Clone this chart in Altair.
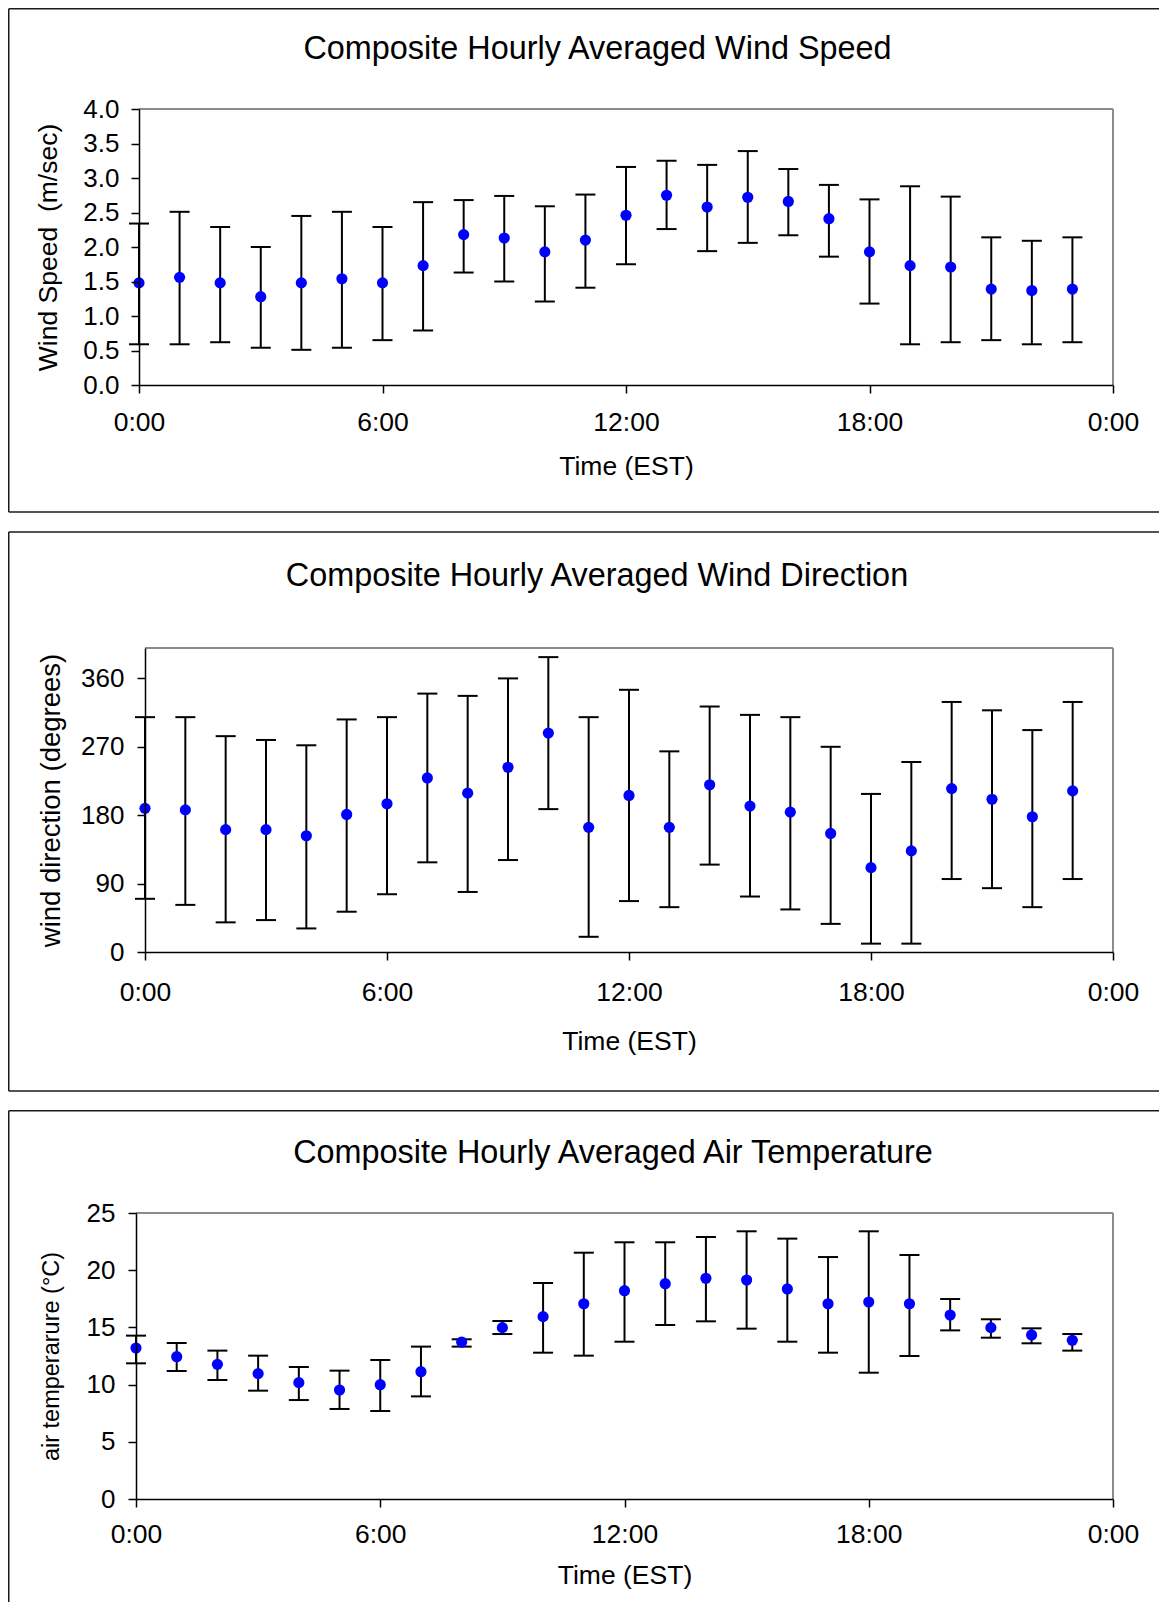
import json
import altair as alt
import pandas as pd

FONT = "Liberation Sans"

hours = list(range(24))
tick_hours = [0, 6, 12, 18, 24]
tick_labels = ["0:00", "6:00", "12:00", "18:00", "0:00"]

titles = [
    "Composite Hourly Averaged Wind Speed",
    "Composite Hourly Averaged Wind Direction",
    "Composite Hourly Averaged Air Temperature",
]
x_title = "Time (EST)"
y_titles = ["Wind Speed \u00a0(m/sec)", "wind direction (degrees)", "air temperarure (°C)"]

speed_mean = [1.48, 1.56, 1.48, 1.28, 1.48, 1.54, 1.48, 1.73, 2.18, 2.13, 1.93, 2.10,
              2.46, 2.75, 2.58, 2.72, 2.66, 2.41, 1.93, 1.73, 1.71, 1.39, 1.37, 1.39]
speed_low = [0.59, 0.59, 0.62, 0.54, 0.51, 0.54, 0.65, 0.79, 1.63, 1.50, 1.21, 1.41,
             1.75, 2.26, 1.94, 2.06, 2.17, 1.86, 1.18, 0.59, 0.62, 0.65, 0.59, 0.62]
speed_high = [2.34, 2.51, 2.29, 2.00, 2.45, 2.51, 2.29, 2.65, 2.68, 2.74, 2.59, 2.76,
              3.16, 3.25, 3.19, 3.39, 3.13, 2.90, 2.69, 2.88, 2.73, 2.14, 2.09, 2.14]

dir_mean = [189, 187, 161, 161, 153, 181, 195, 229, 209, 243, 288, 164,
            206, 164, 220, 192, 184, 156, 111, 133, 215, 201, 178, 212]
dir_low = [70, 62, 39, 42, 31, 53, 76, 118, 79, 121, 188, 20,
           67, 59, 115, 73, 56, 37, 11, 11, 96, 84, 59, 96]
dir_high = [309, 309, 284, 279, 272, 306, 309, 340, 337, 360, 388, 309,
            345, 264, 323, 312, 309, 270, 208, 250, 329, 318, 292, 329]

temp_mean = [13.20, 12.44, 11.77, 10.96, 10.17, 9.53, 9.99, 11.13, 13.72, 14.98, 15.94, 17.07,
             18.21, 18.82, 19.29, 19.14, 18.36, 17.07, 17.22, 17.07, 16.08, 14.98, 14.34, 13.87]
temp_low = [11.86, 11.19, 10.40, 9.47, 8.65, 7.87, 7.69, 8.97, 13.32, 14.42, 12.79, 12.53,
            13.75, 15.21, 15.53, 14.89, 13.75, 12.79, 11.04, 12.50, 14.74, 14.10, 13.61, 12.97]
temp_high = [14.28, 13.64, 12.97, 12.53, 11.54, 11.22, 12.15, 13.32, 13.96, 15.56, 18.88, 21.53,
             22.44, 22.44, 22.90, 23.40, 22.76, 21.15, 23.40, 21.33, 17.48, 15.71, 14.92, 14.42]

label_expr = json.dumps(tick_labels) + "[round(datum.value / 6)]"

FRAME = dict(color="#1a1a1a", strokeWidth=1.5)
BORDER = dict(color="#8c8c8c", strokeWidth=2)
W = 977          # common group width (plot areas end at the same right edge)
FL = -127.25     # frame left, relative to the group origin


def make_panel(title, mean, low, high, y_domain, y_ticks, y_format, y_title,
               y_title_size, height, lay):
    r0 = lay["r0"]
    df = pd.DataFrame({"hour": hours, "mean": mean, "low": low, "high": high})
    x_axis = alt.Axis(values=tick_hours, labelExpr=label_expr, title=x_title,
                      tickSize=8, labelFontSize=26.5, labelPadding=lay["xlabpad"],
                      labelBaseline="alphabetic", labelFlush=False, labelOverlap=False,
                      titleFontSize=26.5, titleY=lay["xtitley"], titleBaseline="alphabetic",
                      zindex=1)
    y_axis = alt.Axis(values=y_ticks, format=y_format, title=y_title, tickSize=8,
                      labelFontSize=26, labelPadding=lay["ylabpad"], offset=-r0,
                      titleFontSize=y_title_size, titleX=lay["ytitlex"],
                      titleBaseline="middle", zindex=1)
    xs = alt.Scale(domain=[0, 24], range=[r0, W], nice=False, zero=False)
    ys = alt.Scale(domain=y_domain, nice=False, zero=False)
    X = alt.X("hour:Q", scale=xs, axis=x_axis)

    base = alt.Chart(df)
    bars = base.mark_rule(color="black", strokeWidth=2).encode(
        x=X, y=alt.Y("low:Q", scale=ys, axis=y_axis), y2="high:Q")
    cap_lo = base.mark_tick(orient="horizontal", size=20, thickness=2,
                            color="black", opacity=1).encode(
        x=X, y=alt.Y("low:Q", scale=ys, axis=y_axis))
    cap_hi = base.mark_tick(orient="horizontal", size=20, thickness=2,
                            color="black", opacity=1).encode(
        x=X, y=alt.Y("high:Q", scale=ys, axis=y_axis))
    pts = base.mark_circle(size=125, color="#0000FF", opacity=1).encode(
        x=X, y=alt.Y("mean:Q", scale=ys, axis=y_axis))

    one = alt.Chart(pd.DataFrame({"k": [0]}))
    R, T, B = lay["fr"], lay["ft"], lay["fb"]
    layers = [
        # plot-area border (top and right, grey)
        one.mark_rule(**BORDER).encode(x=alt.value(r0), x2=alt.value(W), y=alt.value(0)),
        one.mark_rule(**BORDER).encode(x=alt.value(W), y=alt.value(0), y2=alt.value(height)),
        bars, cap_lo, cap_hi, pts,
        # chart-area frame
        one.mark_rule(**FRAME).encode(x=alt.value(FL), x2=alt.value(R), y=alt.value(T)),
        one.mark_rule(**FRAME).encode(x=alt.value(FL), y=alt.value(T), y2=alt.value(B)),
    ]
    if lay["bottom_line"]:
        layers.append(one.mark_rule(**FRAME).encode(
            x=alt.value(FL), x2=alt.value(R), y=alt.value(B)))
    layers.append(one.mark_text(text=title, font=FONT, fontSize=32.4, align="center",
                                baseline="alphabetic", color="black").encode(
        x=alt.value(lay["tx"]), y=alt.value(lay["ty"])))
    return alt.layer(*layers).properties(width=W, height=height)


p1 = make_panel(titles[0], speed_mean, speed_low, speed_high, [0, 4],
                [0, 0.5, 1, 1.5, 2, 2.5, 3, 3.5, 4], ".1f", y_titles[0], 26.5, 276,
                dict(r0=3, xlabpad=37, xtitley=89, ylabpad=12, ytitlex=-91,
                     fr=1023, ft=-100.25, fb=403, bottom_line=True,
                     tx=461.5, ty=-50.5))
p2 = make_panel(titles[1], dir_mean, dir_low, dir_high, [0, 400],
                [0, 90, 180, 270, 360], "d", y_titles[1], 27.5, 304,
                dict(r0=9, xlabpad=40, xtitley=97, ylabpad=13, ytitlex=-94,
                     fr=1023, ft=-116, fb=443, bottom_line=True,
                     tx=461, ty=-62))
p3 = make_panel(titles[2], temp_mean, temp_low, temp_high, [0, 25],
                [0, 5, 10, 15, 20, 25], "d", y_titles[2], 23.5, 286,
                dict(r0=0, xlabpad=35, xtitley=84, ylabpad=13, ytitlex=-84.5,
                     fr=1023, ft=-102.25, fb=389, bottom_line=False,
                     tx=477, ty=-50))

chart = alt.ConcatChart(concat=[p1, p2, p3], columns=1, spacing=18,
                        bounds="full").properties(
    padding=0
).configure(font=FONT).configure_view(
    strokeWidth=0
).configure_axis(
    domainColor="black", domainWidth=1.5, tickColor="black", tickWidth=1.5,
    labelColor="black", titleColor="black", labelFont=FONT, titleFont=FONT,
    titleFontWeight="normal", grid=False
)

chart.save("out.html", embed_options={"renderer": "svg", "actions": False})
